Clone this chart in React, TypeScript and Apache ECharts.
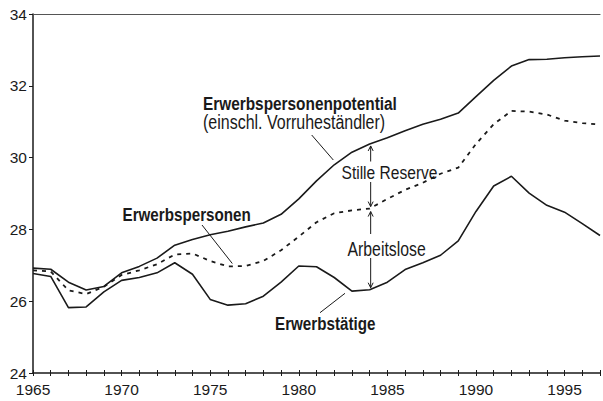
import React, { useEffect, useRef } from "react";
import * as echarts from "echarts";

const years = [
  1965, 1966, 1967, 1968, 1969, 1970, 1971, 1972, 1973, 1974, 1975, 1976, 1977, 1978, 1979, 1980, 1981,
  1982, 1983, 1984, 1985, 1986, 1987, 1988, 1989, 1990, 1991, 1992, 1993, 1994, 1995, 1996, 1997,
];

// Erwerbspersonenpotential (einschl. Vorruheständler), Mio.
const potential = [
  26.92, 26.89, 26.53, 26.31, 26.41, 26.79, 26.97, 27.2, 27.56, 27.72, 27.85, 27.95, 28.07, 28.18, 28.42,
  28.85, 29.35, 29.8, 30.15, 30.38, 30.55, 30.75, 30.93, 31.07, 31.24, 31.7, 32.15, 32.55, 32.73, 32.74,
  32.78, 32.81, 32.83,
];

// Erwerbspersonen
const persons = [
  26.86, 26.83, 26.3, 26.2, 26.4, 26.73, 26.86, 27.03, 27.3, 27.33, 27.12, 26.97, 26.98, 27.12, 27.42,
  27.8, 28.2, 28.45, 28.53, 28.58, 28.85, 29.1, 29.3, 29.55, 29.72, 30.38, 30.93, 31.3, 31.28, 31.2,
  31.03, 30.96, 30.92,
];

// Erwerbstätige
const employed = [
  26.77, 26.69, 25.82, 25.84, 26.26, 26.58, 26.66, 26.79, 27.07, 26.75, 26.05, 25.89, 25.93, 26.14, 26.53,
  26.98, 26.96, 26.66, 26.28, 26.32, 26.53, 26.88, 27.07, 27.28, 27.68, 28.5, 29.21, 29.48, 29.01, 28.67,
  28.48, 28.16, 27.83,
];

const yTicks = [24, 26, 28, 30, 32, 34];
const xLabelYears = [1965, 1970, 1975, 1980, 1985, 1990, 1995];
const arrowYear = 1984;

const FONT = "'Liberation Sans', Arial, sans-serif";
const TICKFONT = "'Liberation Sans', Arial, sans-serif";
const INK = "#1a1a1a";

export default function App() {
  const ref = useRef<HTMLDivElement>(null);

  useEffect(() => {
    if (!ref.current) return;
    const chart = echarts.init(ref.current, null, { renderer: "svg" });
    const pair = (arr: number[]) => years.map((y, i) => [y, arr[i]]);
    const xBase = { type: "value", min: 1965, max: 1997, interval: 1, gridIndex: 0 };

    chart.setOption({
      animation: false,
      grid: { left: 33, right: -5, top: 14, bottom: 28, containLabel: false },
      xAxis: [
        {
          ...xBase,
          position: "bottom",
          axisLine: { show: true, onZero: false, lineStyle: { color: INK, width: 1.5 } },
          axisTick: { show: true, inside: false, length: 3, lineStyle: { color: INK, width: 1 } },
          axisLabel: {
            show: true,
            margin: 8,
            color: INK,
            fontFamily: TICKFONT,
            fontSize: 15.5,
            showMinLabel: true,
            formatter: (v: number) => (xLabelYears.includes(v) ? String(v) : ""),
          },
          splitLine: { show: false },
        },
        {
          ...xBase,
          position: "bottom",
          axisLine: { show: false, onZero: false },
          axisTick: { show: true, inside: true, length: 3, lineStyle: { color: INK, width: 1 } },
          axisLabel: { show: false },
          splitLine: { show: false },
        },
        {
          ...xBase,
          position: "top",
          axisLine: { show: true, onZero: false, lineStyle: { color: "#555", width: 1.2 } },
          axisTick: { show: false },
          axisLabel: { show: false },
          splitLine: { show: false },
        },
      ],
      yAxis: {
        type: "value",
        min: yTicks[0],
        max: yTicks[yTicks.length - 1],
        interval: 2,
        axisLine: { show: true, onZero: false, lineStyle: { color: INK, width: 1.5 } },
        axisTick: { show: true, inside: false, length: 4, lineStyle: { color: INK, width: 1 } },
        axisLabel: { margin: 6, color: INK, fontFamily: TICKFONT, fontSize: 15.5 },
        splitLine: { show: false },
      },
      series: [
        {
          name: "Erwerbspersonenpotential",
          type: "line",
          xAxisIndex: 0,
          data: pair(potential),
          symbol: "none",
          lineStyle: { color: INK, width: 1.6 },
        },
        {
          name: "Erwerbspersonen",
          type: "line",
          xAxisIndex: 0,
          data: pair(persons),
          symbol: "none",
          lineStyle: { color: INK, width: 1.8, type: [4, 5] },
        },
        {
          name: "Erwerbstätige",
          type: "line",
          xAxisIndex: 0,
          data: pair(employed),
          symbol: "none",
          lineStyle: { color: INK, width: 1.6 },
        },
      ],
    });

    const idx = years.indexOf(arrowYear);
    const px = (v: number) => chart.convertToPixel({ gridIndex: 0 }, [arrowYear, v]) as number[];
    const pTop = px(potential[idx]);
    const pMid = px(persons[idx]);
    const pBot = px(employed[idx]);
    const ax = pTop[0] + 1;

    const lineEl = (x1: number, y1: number, x2: number, y2: number, w = 1) => ({
      type: "line",
      shape: { x1, y1, x2, y2 },
      style: { stroke: INK, lineWidth: w },
      silent: true,
    });
    const headUp = (x: number, y: number) => ({
      type: "polyline",
      shape: { points: [[x - 2.5, y + 5], [x, y], [x + 2.5, y + 5]] },
      style: { stroke: INK, lineWidth: 1, fill: "none" },
      silent: true,
    });
    const headDown = (x: number, y: number) => ({
      type: "polyline",
      shape: { points: [[x - 2.5, y - 5], [x, y], [x + 2.5, y - 5]] },
      style: { stroke: INK, lineWidth: 1, fill: "none" },
      silent: true,
    });
    const text = (t: string, x: number, y: number, bold: boolean, size: number, sx = 0.82) => ({
      type: "text",
      x,
      y,
      scaleX: sx,
      style: {
        text: t,
        fill: INK,
        fontFamily: FONT,
        fontSize: size,
        fontWeight: bold ? "bold" : "normal",
        align: "left",
        verticalAlign: "middle",
      },
      silent: true,
    });

    const upTopY = pTop[1] + 2;
    const upBotY = pMid[1] - 2;
    const loTopY = pMid[1] + 3;
    const loBotY = pBot[1] - 2;

    chart.setOption({
      graphic: [
        text("Erwerbspersonenpotential", 203, 103, true, 19, 0.81),
        text("(einschl. Vorruheständler)", 203, 122, false, 19.5),
        text("Erwerbspersonen", 122.5, 214, true, 19, 0.8),
        text("Erwerbstätige", 275, 323, true, 19, 0.8),
        text("Stille Reserve", 341.5, 172.5, false, 19),
        text("Arbeitslose", 347.5, 249.5, false, 19.3),
        lineEl(311.7, 135, 333.3, 160),
        lineEl(202, 225, 232.3, 263.5),
        lineEl(345, 293.3, 320, 312.7),
        lineEl(ax, upTopY, ax, 161.5),
        headUp(ax, upTopY),
        lineEl(ax, 182, ax, upBotY),
        headDown(ax, upBotY),
        lineEl(ax, loTopY, ax, 234),
        headUp(ax, loTopY),
        lineEl(ax, 258, ax, loBotY),
        headDown(ax, loBotY),
      ],
    });

    return () => chart.dispose();
  }, []);

  return (
    <div
      ref={ref}
      style={{ position: "absolute", left: 0, top: 0, width: 603, height: 401, background: "#fff" }}
    />
  );
}
